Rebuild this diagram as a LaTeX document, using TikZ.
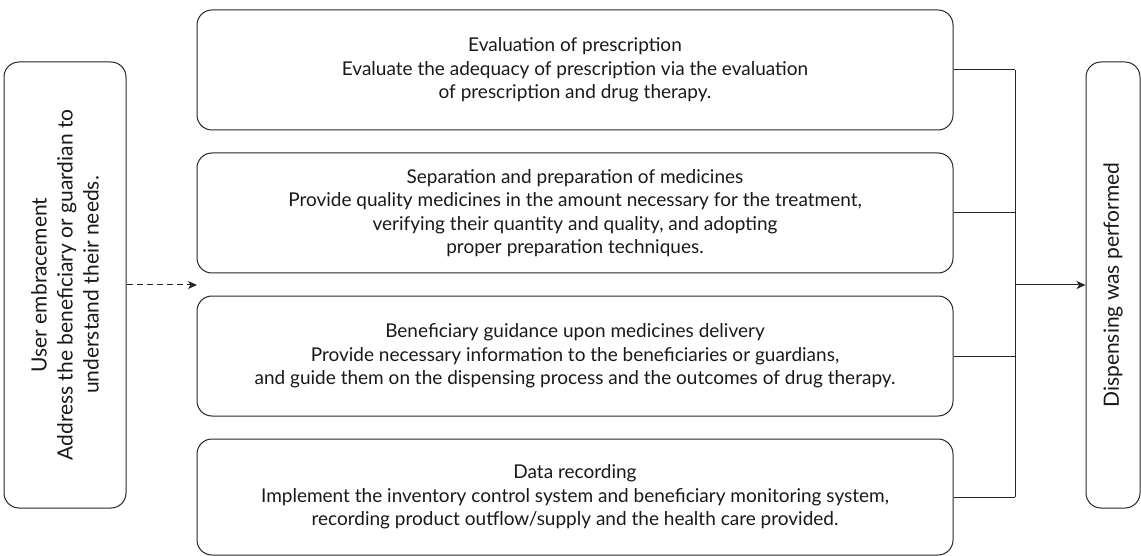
\documentclass[tikz,border=0pt]{standalone}
\usepackage{fontspec}
\setmainfont{Lato}
\usetikzlibrary{arrows.meta}
\tikzset{
  box/.style={draw=black!85, line width=1pt, rounded corners=15pt, align=center,
    font=\fontsize{19}{23.3}\selectfont, text=black!90, inner sep=0pt},
  midbox/.style={box, minimum width=756pt, minimum height=120pt},
  sidebox/.style={box, rotate=90, minimum width=446pt, font=\fontsize{21}{26}\selectfont},
  conn/.style={draw=black!85, line width=1pt},
  arr/.style={conn, -{Stealth[length=9pt,width=8pt,inset=2.5pt]}},
}
\begin{document}
\begin{tikzpicture}[x=1pt,y=-1pt]
\useasboundingbox (0,0) rectangle (1141,556);
\node[sidebox, minimum height=122pt] (lbox) at (65,285)
  {User embracement\\Address the beneficiary or guardian to\\understand their needs.};
\node[sidebox, minimum height=54pt] (rbox) at (1113,285) {Dispensing was performed};
\node[midbox] (b1) at (575,70)
  {Evaluation of prescription\\Evaluate the adequacy of prescription via the evaluation\\of prescription and drug therapy.};
\node[midbox] (b2) at (575,213)
  {Separation and preparation of medicines\\Provide quality medicines in the amount necessary for the treatment,\\verifying their quantity and quality, and adopting\\proper preparation techniques.};
\node[midbox] (b3) at (575,356)
  {Beneficiary guidance upon medicines delivery\\Provide necessary information to the beneficiaries or guardians,\\and guide them on the dispensing process and the outcomes of drug therapy.};
\node[midbox, minimum height=116pt] (b4) at (575,497)
  {Data recording\\Implement the inventory control system and beneficiary monitoring system,\\recording product outflow/supply and the health care provided.};
\coordinate (bus) at (1015,285);
\coordinate (gap) at (197,285);
\foreach \b in {b1,b2,b3,b4} \draw[conn] (\b.east) -- (\b.east -| bus);
\draw[conn] (b1.east -| bus) -- (b4.east -| bus);
\draw[arr] (bus) -- (rbox.north);
\draw[arr, dashed, dash pattern=on 6pt off 4pt] (lbox.south) -- (gap);
\end{tikzpicture}
\end{document}
